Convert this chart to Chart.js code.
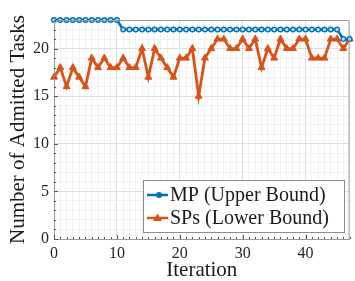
<!DOCTYPE html>
<html>
<head>
<meta charset="utf-8">
<script src="https://cdn.jsdelivr.net/npm/chart.js@4.4.1/dist/chart.umd.min.js"></script>
<style>
  html, body { margin: 0; padding: 0; background: #fff; }
  #wrap { width: 355px; height: 281px; }
</style>
</head>
<body>
<div id="wrap"><canvas id="chart" width="355" height="281"></canvas></div>
<script>
/* DATA */
const iterations = [0,1,2,3,4,5,6,7,8,9,10,11,12,13,14,15,16,17,18,19,20,21,22,23,
  24,25,26,27,28,29,30,31,32,33,34,35,36,37,38,39,40,41,42,43,44,45,46,47];

const mpUpper = [23,23,23,23,23,23,23,23,23,23,23,22,22,22,22,22,22,22,22,22,22,22,22,22,
  22,22,22,22,22,22,22,22,22,22,22,22,22,22,22,22,22,22,22,22,22,22,21,21];

const spLower = [17,18,16,18,17,16,19,18,19,18,18,19,18,18,20,17,20,19,18,17,19,19,20,15,
  19,20,21,21,20,20,21,20,21,18,20,19,21,20,20,21,21,19,19,19,21,21,20,21];

const seriesNames = ["MP (Upper Bound)", "SPs (Lower Bound)"];
const xTicks = [0, 10, 20, 30, 40];
const yTicks = [0, 5, 10, 15, 20];

const BLUE = "#0072BD";
const ORANGE = "#D95319";
const SERIF = "'Liberation Serif', 'Times New Roman', serif";

const el = (id) => document.getElementById(id);
const pts = (ys) => ys.map((y, i) => ({ x: iterations[i], y: y }));

/* FRAME + MINOR TICKS + LEGEND */
const framePlugin = {
  id: "frame",
  afterDraw(chart) {
    const { ctx, chartArea: a, scales } = chart;
    ctx.save();
    ctx.strokeStyle = "#9a9a9a";
    ctx.lineWidth = 1;
    ctx.strokeRect(a.left + 0.5, a.top + 0.5, a.right - a.left - 1, a.bottom - a.top);

    // little inward ticks like the original
    ctx.strokeStyle = "#555";
    scales.y.ticks.forEach(t => {
      const py = Math.round(scales.y.getPixelForValue(t.value)) + 0.5;
      const len = t.value % 5 === 0 ? 4 : 2;
      ctx.beginPath(); ctx.moveTo(a.left, py); ctx.lineTo(a.left + len, py); ctx.stroke();
    });
    scales.x.ticks.forEach(t => {
      const px = Math.round(scales.x.getPixelForValue(t.value)) + 0.5;
      const len = t.value % 10 === 0 ? 4 : 2;
      ctx.beginPath(); ctx.moveTo(px, a.bottom); ctx.lineTo(px, a.bottom - len); ctx.stroke();
    });

    // legend box inside the plot, lower right
    const bx = 143.5, by = 180.5, bw = 201, bh = 52;
    ctx.fillStyle = "#fff";
    ctx.fillRect(bx, by, bw, bh);
    ctx.strokeStyle = "#8c8c8c";
    ctx.strokeRect(bx, by, bw, bh);

    chart.data.datasets.forEach((ds, i) => {
      const cy = 195 + i * 23;
      ctx.strokeStyle = ds.borderColor;
      ctx.lineWidth = 2.5;
      ctx.beginPath(); ctx.moveTo(147, cy); ctx.lineTo(168, cy); ctx.stroke();
      ctx.fillStyle = ds.borderColor;
      if (ds.pointStyle === "triangle") {
        ctx.beginPath();
        ctx.moveTo(157.5, cy - 4.5); ctx.lineTo(162, cy + 3); ctx.lineTo(153, cy + 3);
        ctx.closePath(); ctx.fill();
      } else {
        ctx.beginPath(); ctx.arc(159, cy, 3, 0, Math.PI * 2); ctx.fill();
      }
      ctx.fillStyle = "#1a1a1a";
      ctx.font = "20px " + SERIF;
      ctx.textBaseline = "middle";
      ctx.textAlign = "left";
      ctx.fillText(ds.label, 170, cy + 1);
    });
    ctx.restore();
  }
};

new Chart(el("chart"), {
  type: "line",
  data: {
    datasets: [{
      label: seriesNames[0],
      data: pts(mpUpper),
      borderColor: BLUE,
      backgroundColor: BLUE,
      borderWidth: 2.5,
      pointStyle: "circle",
      pointRadius: 2.3,
      pointBorderWidth: 1.4,
      pointBackgroundColor: "#cfe3f3",
      pointBorderColor: BLUE,
      tension: 0,
      clip: false
    }, {
      label: seriesNames[1],
      data: pts(spLower),
      borderColor: ORANGE,
      backgroundColor: ORANGE,
      borderWidth: 2.8,
      pointStyle: "triangle",
      pointRadius: 4,
      pointBorderWidth: 1,
      pointBackgroundColor: ORANGE,
      pointBorderColor: ORANGE,
      tension: 0,
      clip: false
    }]
  },
  options: {
    responsive: false,
    animation: false,
    events: [],
    layout: { padding: { top: 20, right: 3, left: 0, bottom: 0 } },
    plugins: { legend: { display: false }, tooltip: { enabled: false } },
    scales: {
      x: {
        type: "linear",
        min: 0,
        max: 47,
        afterFit: (s) => { s.height = 42; },
        ticks: {
          stepSize: 1,
          autoSkip: false,
          maxRotation: 0,
          padding: 5,
          color: "#262626",
          font: { family: SERIF, size: 16 },
          callback: (v) => xTicks.includes(v) ? String(v) : ""
        },
        grid: {
          drawTicks: false,
          color: (c) => c.tick && c.tick.value % 10 === 0 ? "#dedede" : "#f1f1f1"
        },
        border: { display: true, color: "#9a9a9a" },
        title: {
          display: true,
          text: "Iteration",
          color: "#1a1a1a",
          font: { family: SERIF, size: 21, lineHeight: 1 },
          padding: { top: 0, bottom: 0 }
        }
      },
      y: {
        min: 0,
        max: 23,
        afterFit: (s) => { s.width = 54; },
        ticks: {
          stepSize: 1,
          autoSkip: false,
          padding: 5,
          color: "#262626",
          font: { family: SERIF, size: 16 },
          callback: (v) => yTicks.includes(v) ? String(v) : ""
        },
        grid: {
          drawTicks: false,
          color: (c) => c.tick && c.tick.value % 5 === 0 ? "#dedede" : "#f1f1f1"
        },
        border: { display: true, color: "#9a9a9a" },
        title: {
          display: true,
          text: "Number of Admitted Tasks",
          color: "#1a1a1a",
          font: { family: SERIF, size: 21, lineHeight: 1 },
          padding: { top: 8, bottom: 0 }
        }
      }
    }
  },
  plugins: [framePlugin]
});
</script>
</body>
</html>
